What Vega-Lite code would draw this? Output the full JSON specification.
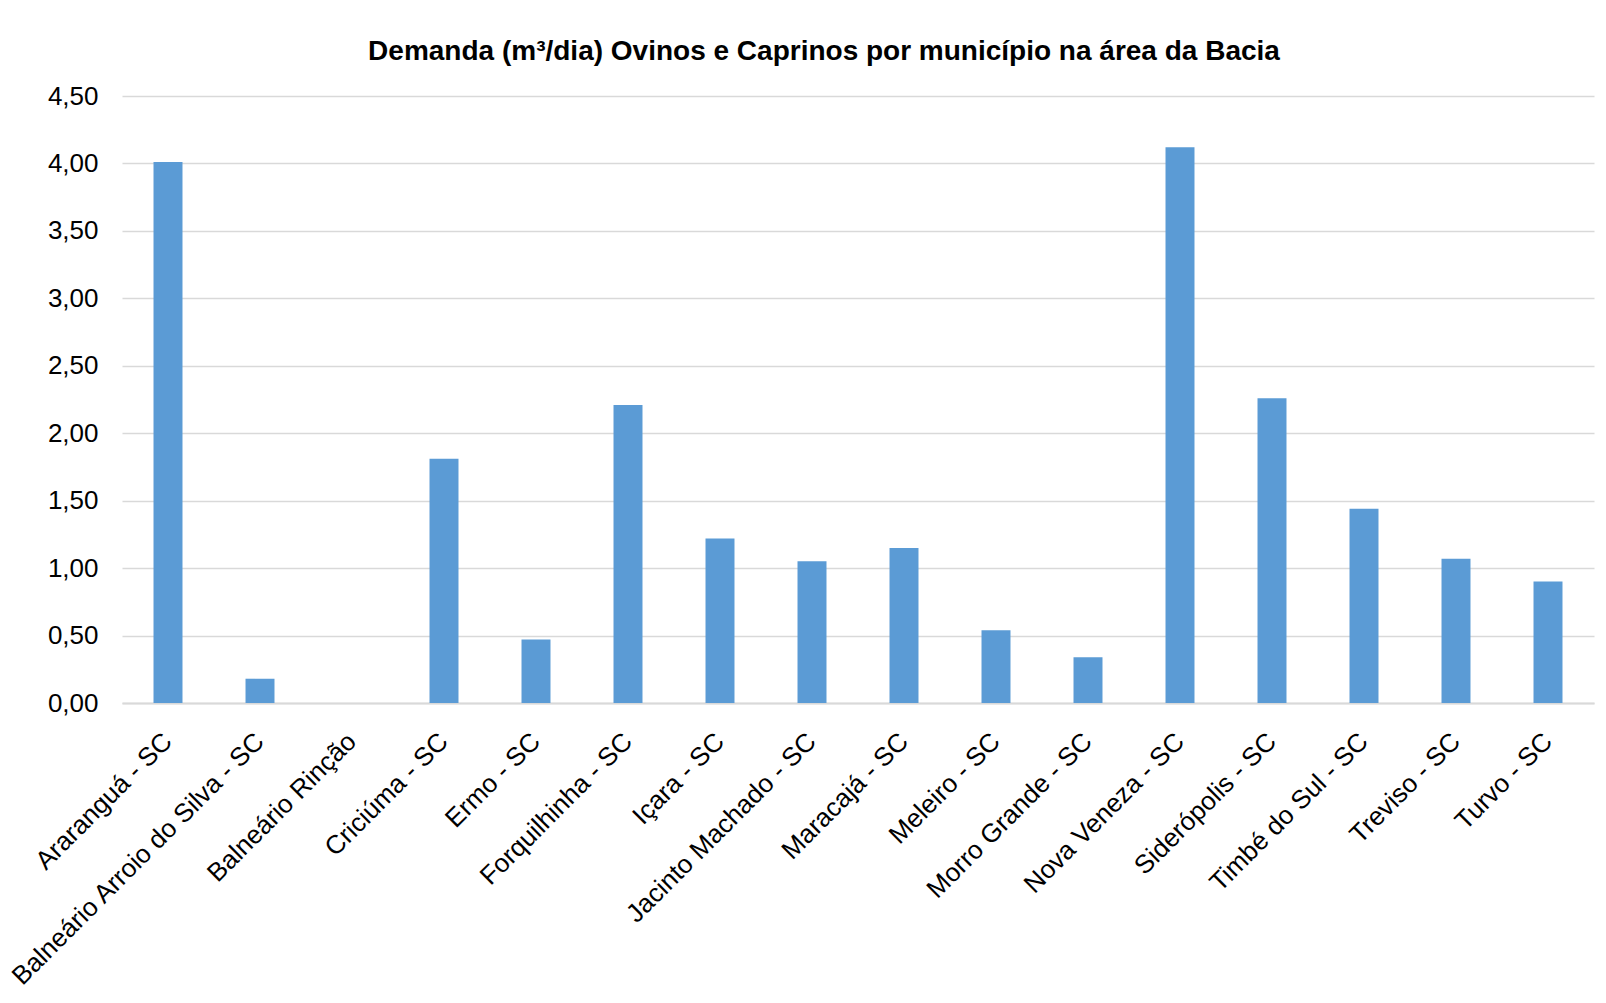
{
  "$schema": "https://vega.github.io/schema/vega-lite/v6.json",
  "width": 1472,
  "height": 607,
  "autosize": {"type": "none"},
  "padding": {"left": 122, "top": 96, "right": 12, "bottom": 300},
  "background": "#ffffff",
  "title": {
    "text": "Demanda (m³/dia) Ovinos e Caprinos por município na área da Bacia",
    "anchor": "middle",
    "frame": "group",
    "dx": -34,
    "offset": 17,
    "font": "Liberation Sans",
    "fontSize": 28,
    "fontWeight": "bold",
    "color": "#000000"
  },
  "data": {
    "values": [
      {"municipio": "Araranguá - SC", "demanda": 4.01},
      {"municipio": "Balneário Arroio do Silva - SC", "demanda": 0.18},
      {"municipio": "Balneário Rinção", "demanda": 0},
      {"municipio": "Criciúma - SC", "demanda": 1.81},
      {"municipio": "Ermo - SC", "demanda": 0.47},
      {"municipio": "Forquilhinha - SC", "demanda": 2.21},
      {"municipio": "Içara - SC", "demanda": 1.22},
      {"municipio": "Jacinto Machado - SC", "demanda": 1.05},
      {"municipio": "Maracajá - SC", "demanda": 1.15},
      {"municipio": "Meleiro - SC", "demanda": 0.54},
      {"municipio": "Morro Grande - SC", "demanda": 0.34},
      {"municipio": "Nova Veneza - SC", "demanda": 4.12},
      {"municipio": "Siderópolis - SC", "demanda": 2.26},
      {"municipio": "Timbé do Sul - SC", "demanda": 1.44},
      {"municipio": "Treviso - SC", "demanda": 1.07},
      {"municipio": "Turvo - SC", "demanda": 0.90}
    ]
  },
  "mark": {"type": "bar", "color": "#5b9bd5"},
  "encoding": {
    "x": {
      "field": "municipio",
      "type": "nominal",
      "sort": null,
      "scale": {"paddingInner": 0.685, "paddingOuter": 0.3425},
      "axis": {
        "title": null,
        "labelAngle": -45,
        "labelAlign": "right",
        "labelBaseline": "middle",
        "labelPadding": 34,
        "labelFont": "Liberation Sans",
        "labelFontSize": 26,
        "labelColor": "#000000",
        "labelLimit": 0,
        "labelOverlap": false,
        "ticks": false,
        "domain": true,
        "domainColor": "#d9d9d9",
        "domainWidth": 2
      }
    },
    "y": {
      "field": "demanda",
      "type": "quantitative",
      "scale": {"domain": [0, 4.5], "nice": false},
      "axis": {
        "title": null,
        "values": [0, 0.5, 1, 1.5, 2, 2.5, 3, 3.5, 4, 4.5],
        "labelExpr": "replace(format(datum.value, '.2f'), '.', ',')",
        "labelFont": "Liberation Sans",
        "labelFontSize": 26,
        "labelColor": "#000000",
        "labelPadding": 24,
        "ticks": false,
        "domain": false,
        "grid": true,
        "gridColor": "#d9d9d9",
        "gridWidth": 1.5
      }
    }
  },
  "config": {
    "view": {"stroke": null}
  }
}
